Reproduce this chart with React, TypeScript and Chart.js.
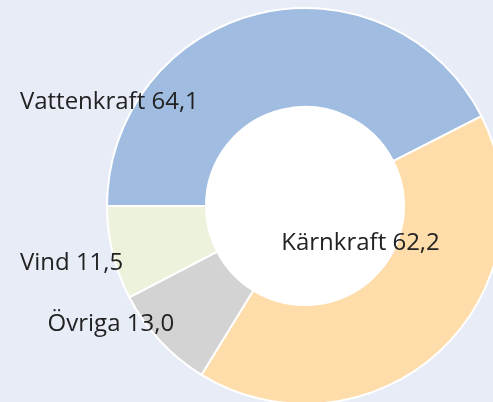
import React, { useEffect, useRef } from "react";
import { Chart, registerables } from "chart.js";

Chart.register(...registerables);

const categories = ["Vattenkraft", "Kärnkraft", "Övriga", "Vind"];
const values = [64.1, 62.2, 13.0, 11.5];
const valueLabels = ["64,1", "62,2", "13,0", "11,5"];
const colors = ["#A0BCE0", "#FFDDAA", "#D3D3D3", "#EDF2DC"];
// label anchor offsets relative to doughnut centre, in units of outer radius
const labelDx = [-1.44, -0.12, -1.3, -1.44];
const labelDy = [-0.525, 0.188, 0.597, 0.29];

const BG = "#E8ECF7";

const holeAndLabels = {
  id: "holeAndLabels",
  beforeDatasetsDraw(chart: any) {
    const meta = chart.getDatasetMeta(0);
    const arc = meta.data[0];
    if (!arc) return;
    const { x, y, innerRadius } = arc.getProps(["x", "y", "innerRadius"], true);
    const ctx = chart.ctx;
    ctx.save();
    ctx.fillStyle = "#ffffff";
    ctx.beginPath();
    ctx.arc(x, y, innerRadius, 0, Math.PI * 2);
    ctx.fill();
    ctx.restore();
  },
  afterDatasetsDraw(chart: any) {
    const meta = chart.getDatasetMeta(0);
    const arc = meta.data[0];
    if (!arc) return;
    const { x, y, outerRadius } = arc.getProps(["x", "y", "outerRadius"], true);
    const ctx = chart.ctx;
    ctx.save();
    ctx.font = "400 24px 'Open Sans', sans-serif";
    ctx.fillStyle = "#222222";
    ctx.textAlign = "left";
    ctx.textBaseline = "middle";
    categories.forEach((c, i) => {
      ctx.fillText(
        c + " " + valueLabels[i],
        x + labelDx[i] * outerRadius,
        y + labelDy[i] * outerRadius
      );
    });
    ctx.restore();
  },
};

export default function App() {
  const ref = useRef<HTMLCanvasElement | null>(null);
  useEffect(() => {
    document.body.style.margin = "0";
    const canvas = ref.current!;
    const chart = new Chart(canvas, {
      type: "doughnut",
      data: {
        labels: categories,
        datasets: [
          {
            data: values,
            backgroundColor: colors,
            borderColor: "#ffffff",
            borderWidth: 2,
            hoverOffset: 0,
            offset: 0,
          },
        ],
      },
      options: {
        responsive: false,
        animation: false,
        devicePixelRatio: 1,
        rotation: -90,
        cutout: "50%",
        layout: { padding: { left: 106, right: 16, top: 7, bottom: 15 } },
        plugins: {
          legend: { display: false },
          tooltip: { enabled: false },
        },
      },
      plugins: [holeAndLabels],
    });
    return () => chart.destroy();
  }, []);
  return (
    <div
      style={{
        position: "fixed",
        left: 0,
        top: 0,
        width: 493,
        height: 402,
        overflow: "hidden",
        background: BG,
      }}
    >
      <canvas
        ref={ref}
        width={520}
        height={420}
        style={{ position: "absolute", left: 0, top: 0, width: 520, height: 420 }}
      />
    </div>
  );
}
